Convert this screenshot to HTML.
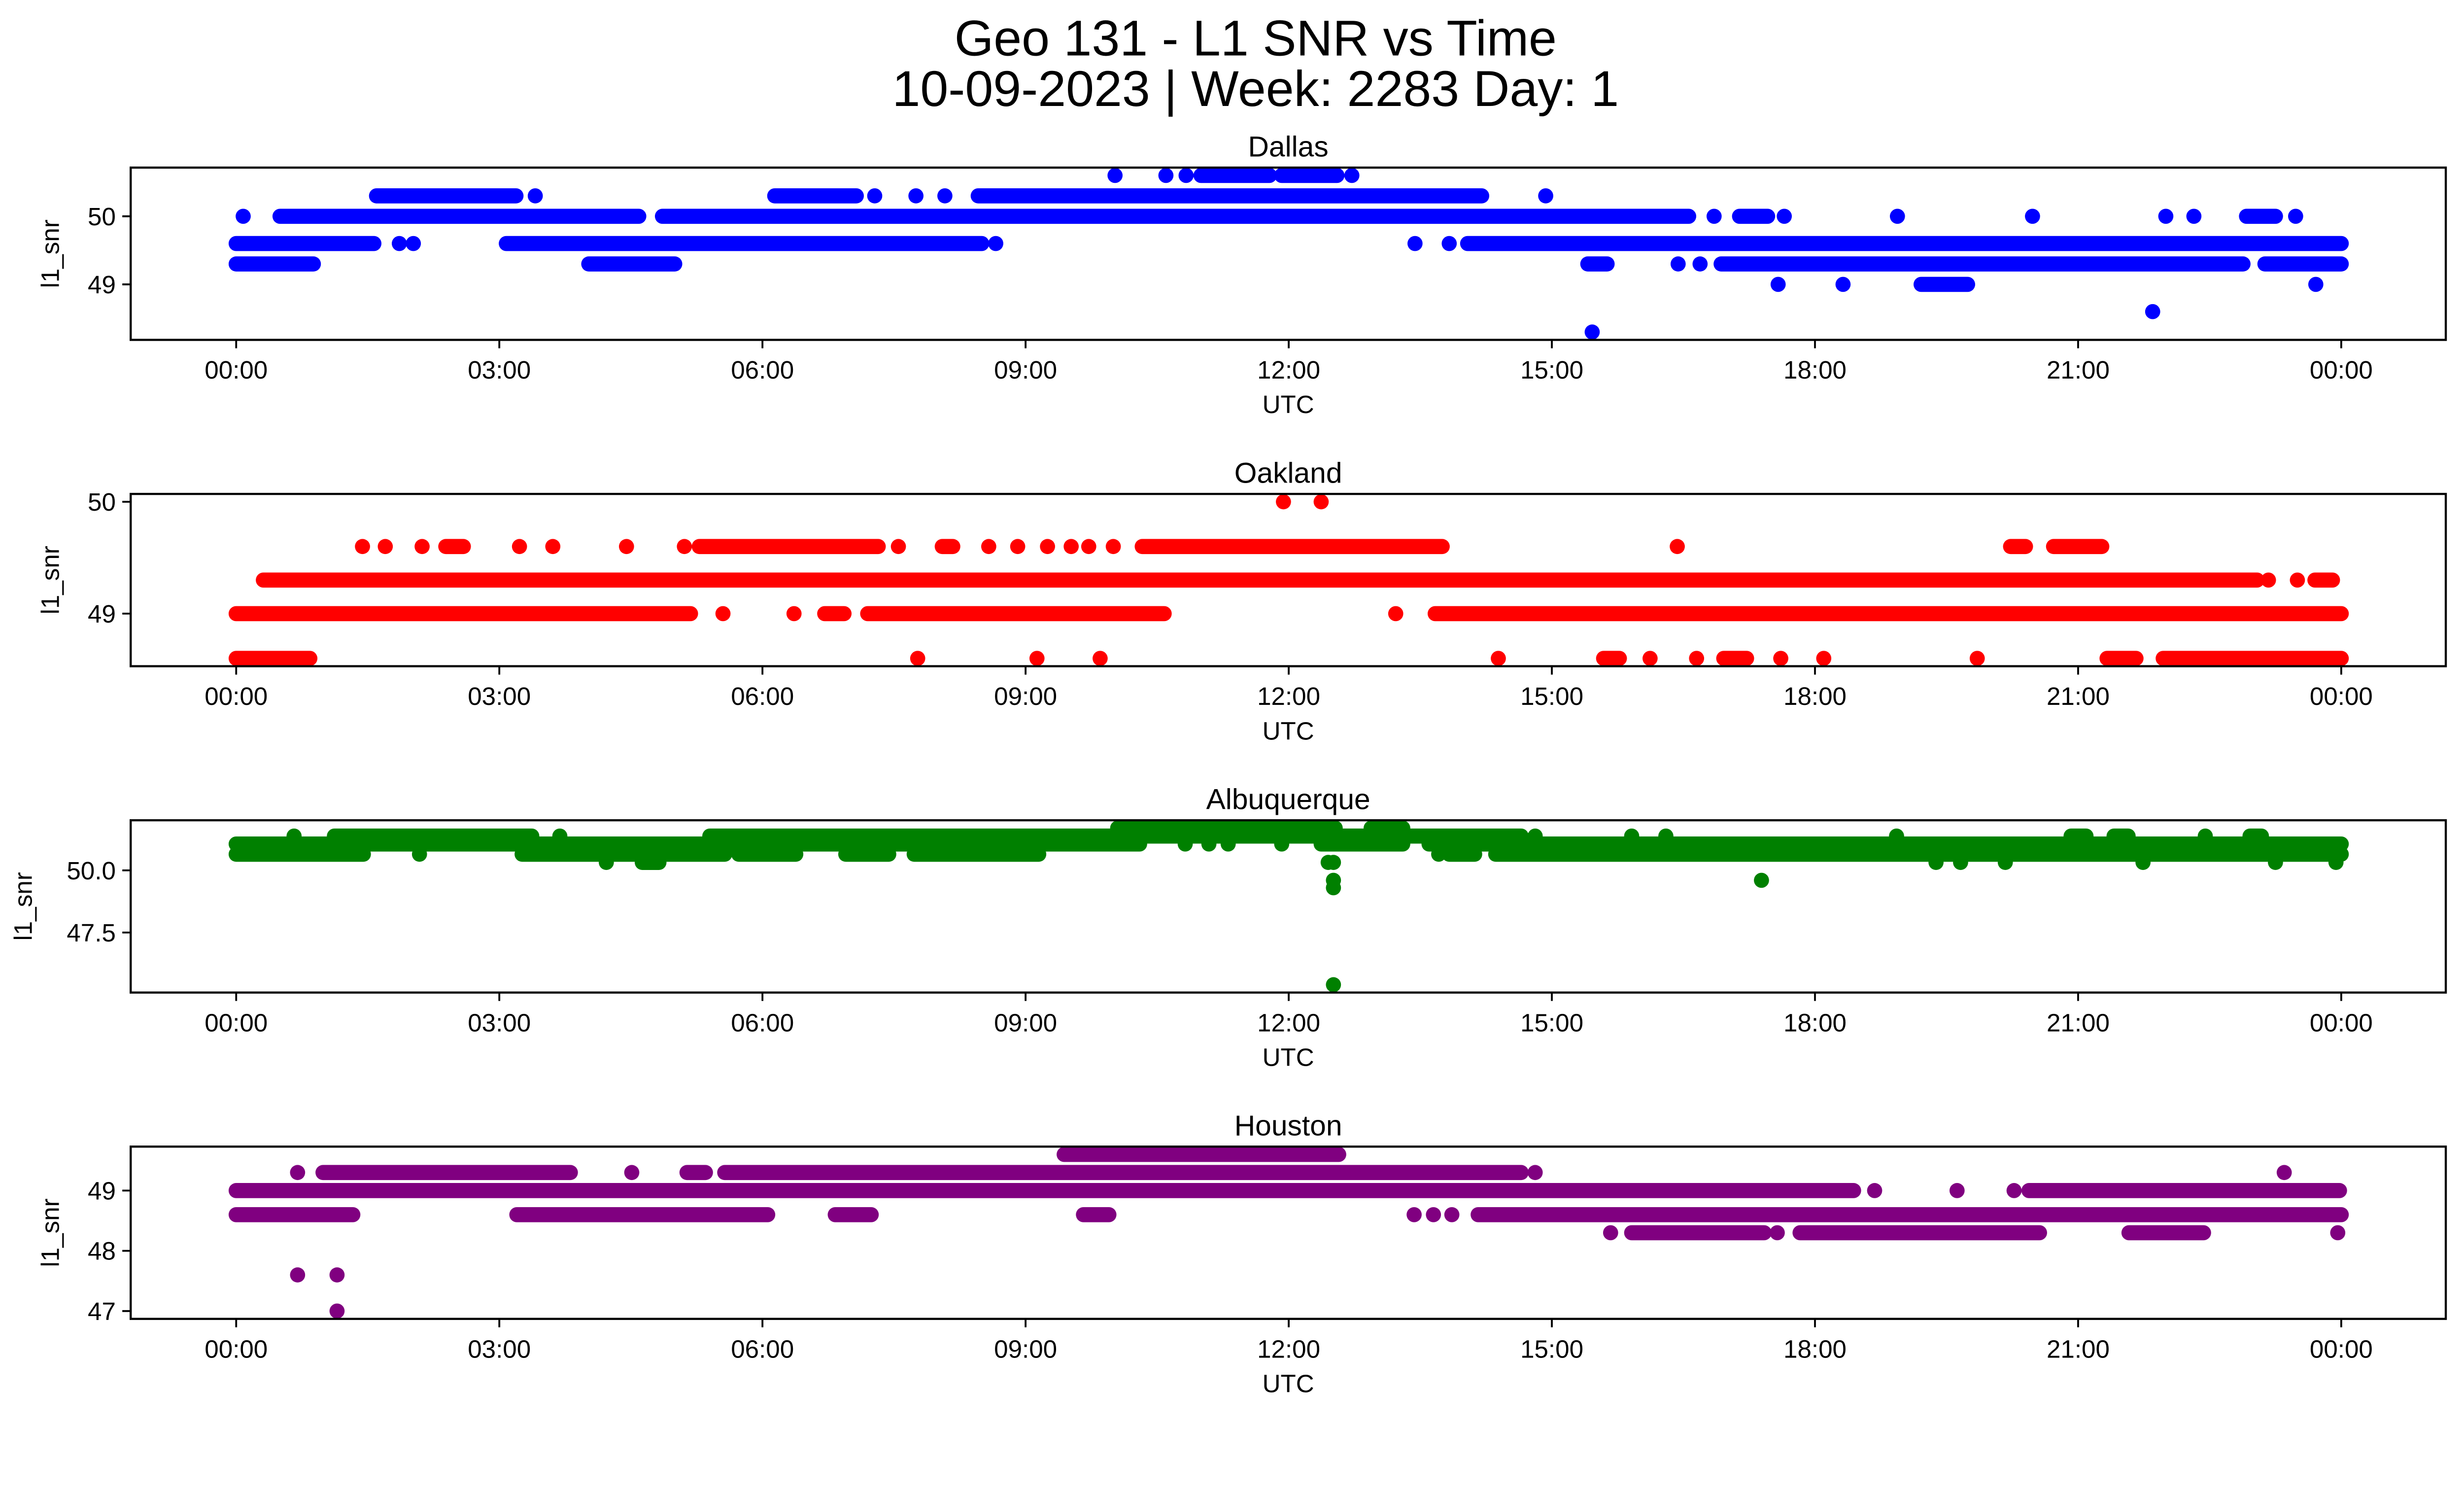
<!DOCTYPE html>
<html><head><meta charset="utf-8"><style>
html,body{margin:0;padding:0;background:#fff;overflow:hidden;}
svg{display:block;width:100vw;height:calc(100vw * 3033 / 5279);font-family:"Liberation Sans","DejaVu Sans",sans-serif;}
</style></head><body>
<svg id="fig" viewBox="0 0 5279 3033" xmlns="http://www.w3.org/2000/svg">
<rect x="0" y="0" width="5279" height="3033" fill="#fff"/>
<text x="2690" y="119" font-size="108" text-anchor="middle">Geo 131 - L1 SNR vs Time</text>
<text x="2690" y="227" font-size="108" text-anchor="middle">10-09-2023 | Week: 2283 Day: 1</text>
</svg>
<script>
// ---- data (hours UTC; runs of points per SNR level) ----
const stations = ["Dallas","Oakland","Albuquerque","Houston"];
const colors = ["#0000ff","#ff0000","#008000","#800080"];
const xTickLabels = ["00:00","03:00","06:00","09:00","12:00","15:00","18:00","21:00","00:00"];
const xTickHours = [0,3,6,9,12,15,18,21,24];

const dallasLevels = [50.6,50.3,50.0,49.6,49.3,49.0,48.6,48.3];
const dallasRuns = [
 [[10.02],[10.6],[10.83],[11.0,11.78],[11.92,12.55],[12.72]],
 [[1.6,3.19],[3.41],[6.14,7.07],[7.28],[7.75],[8.08],[8.46,14.2],[14.93]],
 [[0.08],[0.5,4.59],[4.86,16.56],[16.85],[17.14,17.46],[17.65],[18.94],[20.48],[22.0],[22.32],[22.92,23.25],[23.48]],
 [[0,1.57],[1.86],[2.02],[3.08,8.5],[8.66],[13.44],[13.83],[14.04,24]],
 [[0,0.88],[4.02,5.0],[15.41,15.63],[16.44],[16.69],[16.93,22.88],[23.13,24]],
 [[17.58],[18.32],[19.21,19.74],[23.71]],
 [[21.85]],
 [[15.46]]
];
const dallasTicks = [49,50];

const oaklandLevels = [50.0,49.6,49.3,49.0,48.6];
const oaklandRuns = [
 [[11.94],[12.37]],
 [[1.44],[1.7],[2.12],[2.39,2.59],[3.23],[3.61],[4.45],[5.11],[5.28,7.32],[7.55],[8.05,8.17],[8.58],[8.91],[9.25],[9.52],[9.72],[10.0],[10.33,13.75],[16.43],[20.23,20.4],[20.72,21.27]],
 [[0.31,23.04],[23.17],[23.5],[23.7,23.9]],
 [[0,5.18],[5.55],[6.36],[6.71,6.93],[7.2,10.58],[13.22],[13.67,24]],
 [[0,0.84],[7.77],[9.13],[9.85],[14.39],[15.59,15.77],[16.12],[16.65],[16.96,17.22],[17.61],[18.1],[19.85],[21.33,21.66],[21.97,24]]
];
const oaklandTicks = [49,50];

const albuquerqueLevels = [51.7,51.38,51.06,50.65,50.32,49.6,49.3,45.4];
const albuquerqueRuns = [
 [[10.05,12.53],[12.94,13.3]],
 [[0.66],[1.12,3.37],[3.69],[5.4,14.65],[14.81],[15.91],[16.3],[18.93],[20.92,21.09],[21.41,21.57],[22.45],[22.96,23.09]],
 [[0,10.3],[10.82],[11.09],[11.31],[11.92],[12.37,13.3],[13.6,24]],
 [[0,1.45],[2.09],[3.26,5.57],[5.73,6.38],[6.95,7.44],[7.73,9.15],[13.71],[13.83,14.12],[14.36,24]],
 [[4.22],[4.63,4.82],[12.45],[12.51],[19.38],[19.66],[20.17],[21.74],[23.25],[23.94]],
 [[12.51],[17.39]],
 [[12.51]],
 [[12.51]]
];
const albuquerqueTicks = [47.5,50.0];

const houstonLevels = [49.6,49.3,49.0,48.6,48.3,47.6,47.0];
const houstonRuns = [
 [[9.44,12.57]],
 [[0.7],[0.99,3.81],[4.51],[5.14,5.35],[5.57,14.65],[14.81],[23.35]],
 [[0,18.44],[18.68],[19.62],[20.27],[20.44,23.98]],
 [[0,1.33],[3.2,6.06],[6.83,7.24],[9.66,9.95],[13.43],[13.65],[13.86],[14.16,24]],
 [[15.67],[15.91,17.42],[17.57],[17.83,20.56],[21.58,22.43],[23.96]],
 [[0.7],[1.15]],
 [[1.15]]
];
const houstonTicks = [47,48,49];

const allLevels = [dallasLevels,oaklandLevels,albuquerqueLevels,houstonLevels];
const allRuns = [dallasRuns,oaklandRuns,albuquerqueRuns,houstonRuns];
const allTicks = [dallasTicks,oaklandTicks,albuquerqueTicks,houstonTicks];
const tickDecimals = [0,0,1,0];

// ---- layout ----
const NS = "http://www.w3.org/2000/svg";
const svg = document.getElementById("fig");
const AX_L = 280, AX_R = 5240, AX_H = 369, AX_TOP0 = 359, AX_STEP = 699;
const X0 = 506, X24 = 5016, R = 16.2;
const FS = 54;
function xScale(t){ return X0 + t*(X24-X0)/24; }
function mk(tag, attrs, parent){
  const e = document.createElementNS(NS, tag);
  for (const k in attrs) e.setAttribute(k, attrs[k]);
  (parent||svg).appendChild(e);
  return e;
}

stations.forEach((name, i) => {
  const top = AX_TOP0 + i*AX_STEP, bottom = top + AX_H;
  const levels = allLevels[i], runs = allRuns[i];
  let vmin = Math.min(...levels), vmax = Math.max(...levels);
  const pad = (vmax - vmin)*0.05; vmin -= pad; vmax += pad;
  const yScale = v => bottom - (v - vmin)/(vmax - vmin)*AX_H;

  const g = mk("g", {});
  
  

  const cp = mk("clipPath", {id: "clip"+i}, g);
  mk("rect", {x: AX_L, y: top, width: AX_R-AX_L, height: AX_H}, cp);

  const pts = mk("g", {"clip-path": "url(#clip"+i+")", fill: colors[i], stroke: colors[i]}, g);
  
  
  levels.forEach((lv, li) => {
    const y = yScale(lv);
    runs[li].forEach(r => {
      if (r.length === 1 || r[0] === r[1]) {
        const c = mk("circle", {cx: xScale(r[0]), cy: y, r: R, stroke: "none"}, pts);
        
        
      } else {
        const l = mk("line", {x1: xScale(r[0]), x2: xScale(r[1]), y1: y, y2: y, "stroke-width": 2*R, "stroke-linecap": "round"}, pts);
        
        
      }
    });
  });

  const frame = mk("rect", {x: AX_L, y: top, width: AX_R-AX_L, height: AX_H, fill: "none", stroke: "#000", "stroke-width": 4.6}, g);
  
  

  xTickHours.forEach((h, k) => {
    const x = xScale(h);
    const tk = mk("line", {x1: x, x2: x, y1: bottom, y2: bottom+18, stroke: "#000", "stroke-width": 4}, g);
    
    
    const tl = mk("text", {x: x, y: bottom+83, "font-size": FS, "text-anchor": "middle"}, g);
    tl.textContent = xTickLabels[k];
    
    
  });
  const xl = mk("text", {x: (AX_L+AX_R)/2, y: bottom+157, "font-size": FS, "text-anchor": "middle"}, g);
  xl.textContent = "UTC";
  
  

  allTicks[i].forEach(v => {
    const y = yScale(v);
    const tk = mk("line", {x1: AX_L-18, x2: AX_L, y1: y, y2: y, stroke: "#000", "stroke-width": 4}, g);
    
    
    const tl = mk("text", {x: AX_L-32, y: y+19, "font-size": FS, "text-anchor": "end"}, g);
    tl.textContent = v.toFixed(tickDecimals[i]);
    
    
  });
  const ylx = i === 2 ? 68 : 126;
  const yl = mk("text", {x: ylx, y: (top+bottom)/2, "font-size": FS, "text-anchor": "middle", transform: "rotate(-90 "+ylx+" "+((top+bottom)/2)+")"}, g);
  yl.textContent = "l1_snr";
  
  

  const st = mk("text", {x: (AX_L+AX_R)/2, y: top-24, "font-size": 62, "text-anchor": "middle"}, g);
  st.textContent = name;
  
  
});
</script>
</body></html>
